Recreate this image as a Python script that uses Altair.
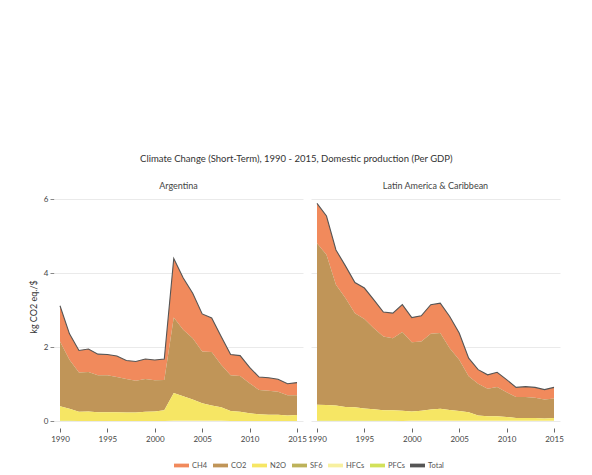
import altair as alt
import pandas as pd

years = list(range(1990, 2016))
regions = ["Argentina", "Latin America & Caribbean"]
gases = ["CH4", "CO2", "N2O", "SF6", "HFCs", "PFCs"]
legend_items = ["CH4", "CO2", "N2O", "SF6", "HFCs", "PFCs", "Total"]
colors = ["#f18a5c", "#c09558", "#f6e664", "#bdb25a", "#f7f0a0", "#d2e15a", "#555555"]
stack_rank = {"PFCs": 0, "HFCs": 1, "SF6": 2, "N2O": 3, "CO2": 4, "CH4": 5}

# Argentina (kg CO2 eq. per $ GDP)
arg_ch4 = [0.97, 0.70, 0.60, 0.62, 0.57, 0.56, 0.57, 0.50, 0.52, 0.54, 0.55, 0.57, 1.60,
           1.40, 1.22, 1.02, 0.92, 0.77, 0.56, 0.55, 0.43, 0.35, 0.35, 0.34, 0.31, 0.34]
arg_co2 = [1.75, 1.33, 1.06, 1.07, 1.00, 1.00, 0.95, 0.91, 0.86, 0.89, 0.84, 0.82, 2.04,
           1.80, 1.66, 1.40, 1.45, 1.15, 0.97, 0.97, 0.81, 0.66, 0.65, 0.62, 0.55, 0.54]
arg_n2o = [0.39, 0.32, 0.25, 0.26, 0.24, 0.24, 0.24, 0.23, 0.23, 0.25, 0.26, 0.29, 0.75,
           0.66, 0.57, 0.47, 0.41, 0.36, 0.27, 0.25, 0.21, 0.18, 0.17, 0.17, 0.15, 0.16]
arg_sf6 = [0.00, 0.00, 0.00, 0.00, 0.00, 0.00, 0.00, 0.00, 0.00, 0.00, 0.00, 0.00, 0.00,
           0.00, 0.00, 0.00, 0.00, 0.00, 0.00, 0.00, 0.00, 0.00, 0.00, 0.00, 0.00, 0.00]
arg_hfcs = [0.00, 0.00, 0.00, 0.00, 0.00, 0.00, 0.00, 0.00, 0.00, 0.00, 0.00, 0.00, 0.01,
            0.01, 0.01, 0.01, 0.01, 0.01, 0.00, 0.00, 0.00, 0.00, 0.00, 0.00, 0.00, 0.00]
arg_pfcs = [0.01, 0.01, 0.00, 0.00, 0.00, 0.00, 0.00, 0.00, 0.00, 0.00, 0.00, 0.00, 0.00,
            0.00, 0.00, 0.00, 0.00, 0.00, 0.00, 0.00, 0.00, 0.00, 0.00, 0.00, 0.00, 0.00]

# Latin America & Caribbean
lac_ch4 = [1.08, 1.05, 0.94, 0.87, 0.83, 0.84, 0.77, 0.66, 0.68, 0.74, 0.67, 0.70, 0.79,
           0.81, 0.86, 0.72, 0.49, 0.38, 0.38, 0.40, 0.34, 0.26, 0.28, 0.28, 0.27, 0.30]
lac_co2 = [4.37, 4.07, 3.27, 2.95, 2.55, 2.42, 2.19, 2.00, 1.95, 2.13, 1.87, 1.87, 2.05,
           2.05, 1.67, 1.39, 0.97, 0.86, 0.74, 0.79, 0.67, 0.57, 0.57, 0.55, 0.51, 0.53]
lac_n2o = [0.43, 0.42, 0.41, 0.37, 0.36, 0.33, 0.31, 0.28, 0.28, 0.28, 0.25, 0.27, 0.30,
           0.32, 0.29, 0.26, 0.23, 0.14, 0.12, 0.12, 0.10, 0.07, 0.07, 0.07, 0.06, 0.07]
lac_sf6 = [0.00, 0.00, 0.00, 0.00, 0.00, 0.00, 0.00, 0.00, 0.00, 0.00, 0.00, 0.00, 0.00,
           0.00, 0.00, 0.00, 0.00, 0.00, 0.00, 0.00, 0.00, 0.00, 0.00, 0.00, 0.00, 0.00]
lac_hfcs = [0.00, 0.00, 0.00, 0.00, 0.00, 0.00, 0.00, 0.00, 0.00, 0.00, 0.01, 0.01, 0.01,
            0.01, 0.01, 0.01, 0.01, 0.01, 0.01, 0.01, 0.01, 0.01, 0.01, 0.01, 0.01, 0.01]
lac_pfcs = [0.01, 0.01, 0.01, 0.01, 0.01, 0.01, 0.01, 0.01, 0.01, 0.00, 0.00, 0.00, 0.00,
            0.00, 0.00, 0.00, 0.00, 0.00, 0.00, 0.00, 0.00, 0.00, 0.00, 0.00, 0.00, 0.00]

series = {
    "Argentina": {"CH4": arg_ch4, "CO2": arg_co2, "N2O": arg_n2o,
                  "SF6": arg_sf6, "HFCs": arg_hfcs, "PFCs": arg_pfcs},
    "Latin America & Caribbean": {"CH4": lac_ch4, "CO2": lac_co2, "N2O": lac_n2o,
                                  "SF6": lac_sf6, "HFCs": lac_hfcs, "PFCs": lac_pfcs},
}

rows = []
for reg in regions:
    for g in gases:
        for y, v in zip(years, series[reg][g]):
            rows.append({"region": reg, "gas": g, "year": y, "value": v, "rank": stack_rank[g]})
df = pd.DataFrame(rows)

FONT = "Lato"
YTITLE = "kg CO2 eq./$"

x_enc = alt.X(
    "year:Q",
    scale=alt.Scale(domain=[1990, 2015], padding=6, nice=False, zero=False),
    axis=alt.Axis(values=[1990, 1995, 2000, 2005, 2010, 2015], format="d", title=None,
                  offset=7, grid=False, domain=False, tickSize=4, tickColor="#666",
                  labelFontSize=8, labelColor="#444", labelPadding=3),
)

y_scale = alt.Scale(domain=[0, 6.2], nice=False)
y_axis = alt.Axis(values=[0, 2, 4, 6], title=YTITLE, grid=True, gridColor="#eaeaea",
                  domain=False, tickSize=4, tickColor="#888", labelFontSize=8,
                  labelColor="#444", labelPadding=2, titleFontSize=9,
                  titleFontWeight="normal", titleColor="#333", titlePadding=5)

color_scale = alt.Scale(domain=legend_items, range=colors)
legend = alt.Legend(title=None, orient="none", direction="horizontal",
                    legendX=120, legendY=266,
                    symbolType="M-1,-0.25L1,-0.25L1,0.25L-1,0.25Z", symbolSize=225,
                    symbolStrokeWidth=0, labelFontSize=7.5, labelColor="#555",
                    columnPadding=5, labelOffset=3)

area = alt.Chart().mark_area(opacity=1).encode(
    x=x_enc,
    y=alt.Y("value:Q", stack="zero", scale=y_scale, axis=y_axis),
    color=alt.Color("gas:N", scale=color_scale, legend=legend),
    order=alt.Order("rank:Q", sort="ascending"),
)

line = alt.Chart().transform_aggregate(
    total="sum(value)", groupby=["region", "year"]
).mark_line(strokeWidth=1.1).encode(
    x=alt.X("year:Q"),
    y=alt.Y("total:Q", title=YTITLE),
    color=alt.datum("Total"),
)

chart = alt.layer(area, line, data=df).properties(width=249, height=229).facet(
    column=alt.Column("region:N", title=None, sort=regions,
                      header=alt.Header(labelFontSize=9, labelColor="#444",
                                        labelFont=FONT, labelPadding=1)),
    spacing=8,
).properties(
    title=alt.Title("Climate Change (Short-Term), 1990 - 2015, Domestic production (Per GDP)",
                    fontSize=9.5, fontWeight="normal", color="#333", font=FONT,
                    anchor="middle", offset=19),
    padding={"left": 21, "top": 145, "right": 10, "bottom": 5},
).configure(font=FONT).configure_view(stroke=None)

chart.save("out.html", embed_options={"renderer": "svg", "actions": False})
